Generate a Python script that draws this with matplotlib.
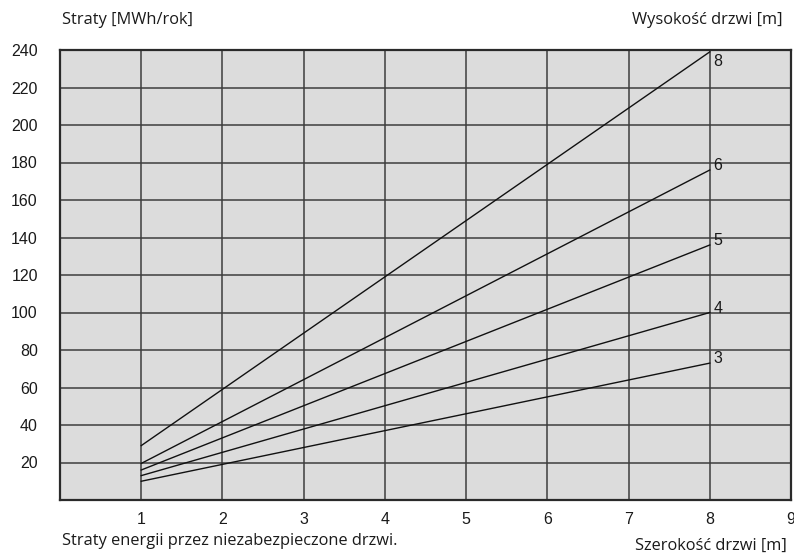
import matplotlib
matplotlib.use("Agg")
import matplotlib.pyplot as plt

# Door heights [m] and heat losses [MWh/rok] at widths 1 m and 8 m
heights = ["8", "6", "5", "4", "3"]
widths = [1, 8]
losses = {
    "8": [29, 239],
    "6": [19.5, 176],
    "5": [16, 136],
    "4": [13, 100],
    "3": [10, 73],
}
x_ticks = [1, 2, 3, 4, 5, 6, 7, 8, 9]
y_ticks = [20, 40, 60, 80, 100, 120, 140, 160, 180, 200, 220, 240]

label_font = ["Open Sans", "DejaVu Sans"]
tick_font = ["Liberation Sans", "DejaVu Sans"]

fig = plt.figure(figsize=(7.94, 5.57), dpi=100)
ax = fig.add_axes([60 / 794, 57 / 557, 731 / 794, 450 / 557])
ax.set_facecolor("#dcdcdc")
ax.set_xlim(0, 9)
ax.set_ylim(0, 240)

ax.set_xticks(x_ticks)
ax.set_yticks(y_ticks)
ax.tick_params(length=0, labelsize=11.5, colors="#1a1a1a")
ax.tick_params(axis="y", pad=16)
ax.tick_params(axis="x", pad=9)
for lbl in ax.get_xticklabels() + ax.get_yticklabels():
    lbl.set_family(tick_font)

ax.grid(True, color="#3d3d3d", linewidth=1.1)
ax.set_axisbelow(True)
for s in ax.spines.values():
    s.set_color("#2a2a2a")
    s.set_linewidth(1.6)

for h in heights:
    ys = losses[h]
    ax.plot(widths, ys, color="#111111", linewidth=1.0, zorder=3)
    # number at the right end of each line
    dy = -7 if h == "8" else 3
    ax.annotate(h, xy=(widths[-1], ys[-1]), xytext=(2.5, dy),
                textcoords="offset points", ha="left", va="center",
                fontsize=11.5, family=tick_font, color="#1a1a1a")

fig.text(62 / 794, 1 - 20 / 557, "Straty [MWh/rok]", ha="left", va="center",
         fontsize=11.8, family=label_font, color="#1a1a1a")
fig.text(783 / 794, 1 - 20 / 557, "Wysokość drzwi [m]", ha="right", va="center",
         fontsize=11.8, family=label_font, color="#1a1a1a")
fig.text(62 / 794, 1 - 541 / 557, "Straty energii przez niezabezpieczone drzwi.",
         ha="left", va="center", fontsize=11.8, family=label_font, color="#1a1a1a")
fig.text(787 / 794, 1 - 546 / 557, "Szerokość drzwi [m]", ha="right", va="center",
         fontsize=11.8, family=label_font, color="#1a1a1a")

fig.savefig("out.png", dpi=100, facecolor="white")
